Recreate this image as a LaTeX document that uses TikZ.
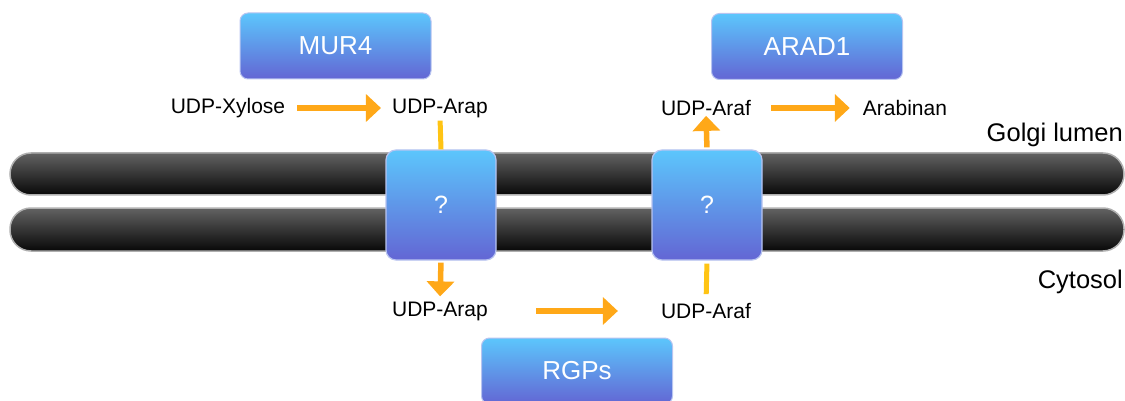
\documentclass[tikz,border=0pt]{standalone}
\usepackage{fontspec}
\setmainfont{Liberation Sans}
\usetikzlibrary{arrows.meta}
\definecolor{boxtop}{RGB}{92,198,252}
\definecolor{boxbot}{RGB}{99,102,212}
\definecolor{boxedge}{RGB}{184,196,240}
\definecolor{bartop}{RGB}{98,98,98}
\definecolor{barbot}{RGB}{8,8,8}
\definecolor{baredge}{RGB}{175,175,175}
\definecolor{arrowor}{RGB}{255,168,24}
\definecolor{lineyel}{RGB}{255,196,20}
\tikzset{
  enzyme/.style={rounded corners=8pt, top color=boxtop, bottom color=boxbot,
    draw=boxedge, line width=1pt, text=white, minimum width=191pt,
    minimum height=66pt, font=\fontsize{26}{30}\selectfont},
  transporter/.style={rounded corners=10pt, top color=boxtop, bottom color=boxbot,
    draw=boxedge, line width=1.2pt, text=white, minimum width=110pt,
    minimum height=110pt, font=\fontsize{25}{30}\selectfont},
  lbl/.style={inner sep=0pt, font=\fontsize{21}{25}\selectfont},
  region/.style={inner sep=0pt, font=\fontsize{25.5}{30}\selectfont},
  membrane/.style={rounded corners=21pt, top color=bartop, bottom color=barbot,
    draw=baredge, line width=1.5pt},
  flow/.style={draw=arrowor, line width=5.5pt,
    -{Triangle[length=15pt,width=27pt]}},
  link/.style={draw=lineyel, line width=5pt},
}
\begin{document}
\begin{tikzpicture}[x=1pt,y=-1pt]
\useasboundingbox (0,0) rectangle (1125,401);
\begin{scope}
\clip (0,0) rectangle (1125,401);
% membranes
\path[membrane] (10,153) rectangle (1124,195);
\path[membrane] (10,208) rectangle (1124,251);
% transporters
\node[transporter] (q1) at (441,205) {?};
\node[transporter] (q2) at (707,205) {?};
% enzymes
\node[enzyme] (mur4) at (335.5,46) {MUR4};
\node[enzyme] (arad1) at (807,46.5) {ARAD1};
\node[enzyme] (rgps) at (577,371) {RGPs};
% labels
\node[lbl] (xylose) at (228,108) {UDP-Xylose};
\node[lbl] (arapT) at (440,108) {UDP-Arap};
\node[lbl] (arafT) at (706,108) {UDP-Araf};
\node[lbl] (arabinan) at (905,108) {Arabinan};
\node[lbl] (arapB) at (440,311) {UDP-Arap};
\node[lbl] (arafB) at (706,311) {UDP-Araf};
\node[region, anchor=east] (golgi) at (1123,135) {Golgi lumen};
\node[region, anchor=east] (cytosol) at (1123,282) {Cytosol};
% connectors
\draw[flow, shorten <=12pt, shorten >=11pt] (xylose.east) -- (arapT.west);
\draw[link, shorten <=3pt] (arapT.south) -- (q1.north);
\draw[flow, shorten <=2pt, shorten >=5pt] (q1.south) -- (arapB.north);
\draw[flow, shorten <=48pt, shorten >=43pt] (arapB.east) -- (arafB.west);
\draw[link, shorten <=9pt, shorten >=3pt] (arafB.north) -- (q2.south);
\draw[flow, shorten <=2pt, shorten >=0pt] (q2.north) -- (arafT.south);
\draw[flow, shorten <=20pt, shorten >=13pt] (arafT.east) -- (arabinan.west);
\end{scope}
\end{tikzpicture}
\end{document}
